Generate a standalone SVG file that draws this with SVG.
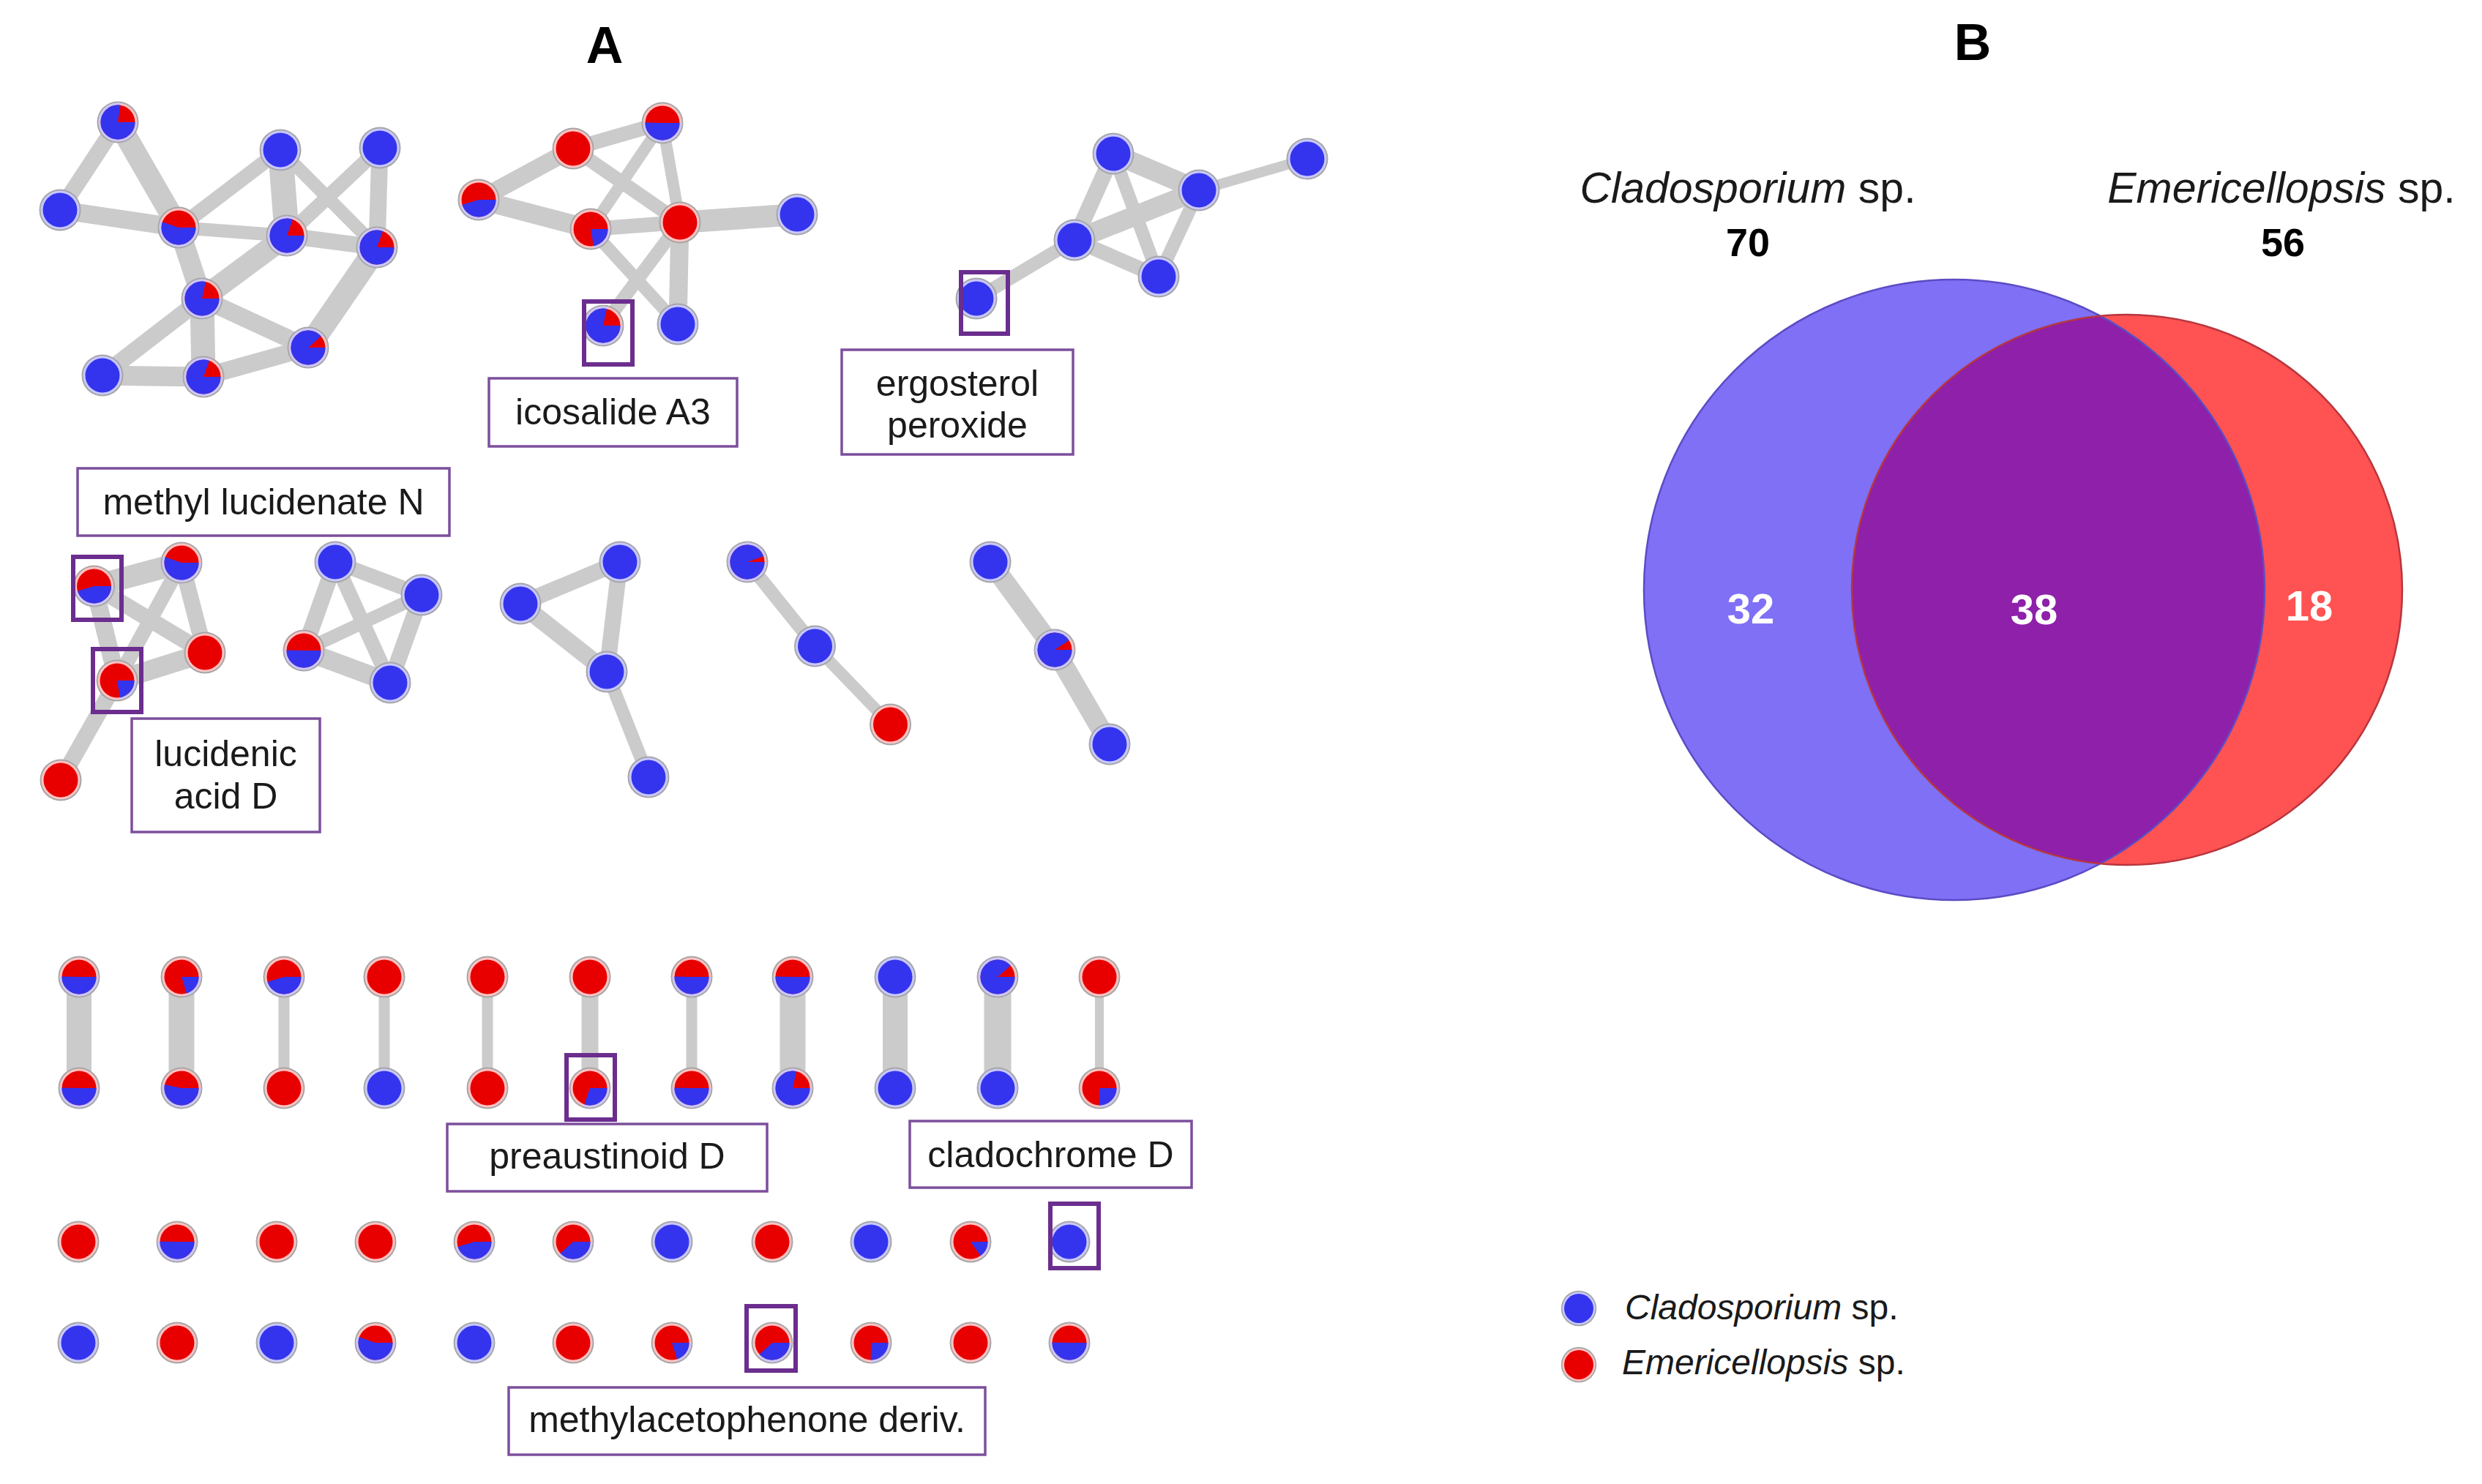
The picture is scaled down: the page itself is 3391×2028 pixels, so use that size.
<svg xmlns="http://www.w3.org/2000/svg" width="3391" height="2028" viewBox="0 0 3391 2028">
<style>
.e{stroke:#cbcbcb;fill:none}
.o{fill:#a6a6a6}
.lr{fill:#ffc2c2}
.lb{fill:#c8c8ff}
.r{fill:#e80000}
.b{fill:#3434ee}
.wl{fill:none;stroke:#c8c8ff;stroke-width:26.5}
.wb{fill:none;stroke:#3434ee;stroke-width:23.5}
.k94 .wl{stroke-dasharray:78.26 90}.k94 .wb{stroke-dasharray:69.40 90}
.k90 .wl{stroke-dasharray:74.93 90}.k90 .wb{stroke-dasharray:66.45 90}
.k88 .wl{stroke-dasharray:73.26 90}.k88 .wb{stroke-dasharray:64.97 90}
.k80 .wl{stroke-dasharray:66.60 90}.k80 .wb{stroke-dasharray:59.06 90}
.k78 .wl{stroke-dasharray:64.94 90}.k78 .wb{stroke-dasharray:57.59 90}
.k77 .wl{stroke-dasharray:64.10 90}.k77 .wb{stroke-dasharray:56.85 90}
.k55 .wl{stroke-dasharray:45.79 90}.k55 .wb{stroke-dasharray:40.61 90}
.k53 .wl{stroke-dasharray:44.12 90}.k53 .wb{stroke-dasharray:39.13 90}
.k50 .wl{stroke-dasharray:41.63 90}.k50 .wb{stroke-dasharray:36.92 90}
.k45 .wl{stroke-dasharray:37.46 90}.k45 .wb{stroke-dasharray:33.22 90}
.k38 .wl{stroke-dasharray:31.64 90}.k38 .wb{stroke-dasharray:28.06 90}
.k30 .wl{stroke-dasharray:24.98 90}.k30 .wb{stroke-dasharray:22.15 90}
.k25 .wl{stroke-dasharray:20.81 90}.k25 .wb{stroke-dasharray:18.46 90}
.k22 .wl{stroke-dasharray:18.32 90}.k22 .wb{stroke-dasharray:16.24 90}
.k20 .wl{stroke-dasharray:16.65 90}.k20 .wb{stroke-dasharray:14.77 90}
.k15 .wl{stroke-dasharray:12.49 90}.k15 .wb{stroke-dasharray:11.07 90}
.lab{fill:#fff;stroke:#7c4f9c;stroke-width:3.5}
.hl{fill:none;stroke:#6b2d8e;stroke-width:6}
.t{font-family:"Liberation Sans",Arial,Helvetica,sans-serif;font-size:50px;fill:#1a1a1a;text-anchor:middle}
.h{font-family:"Liberation Sans",Arial,Helvetica,sans-serif;font-weight:bold;fill:#000;text-anchor:middle}
.lg{font-family:"Liberation Sans",Arial,Helvetica,sans-serif;font-size:48px;fill:#1a1a1a}
</style>
<defs>
<clipPath id="clipL"><circle cx="2670" cy="806" r="424"/></clipPath>
</defs>
<rect width="3391" height="2028" fill="#fff"/>

<text class="h" x="826" y="86" font-size="70">A</text>
<text class="h" x="2695" y="82" font-size="70">B</text>

<g id="connectors">
<g class="e">
<line x1="161" y1="167" x2="82" y2="287" stroke-width="22"/>
<line x1="161" y1="167" x2="244" y2="311" stroke-width="30"/>
<line x1="82" y1="287" x2="244" y2="311" stroke-width="25"/>
<line x1="244" y1="311" x2="383" y2="205" stroke-width="20"/>
<line x1="244" y1="311" x2="392" y2="322" stroke-width="18"/>
<line x1="392" y1="322" x2="515" y2="338" stroke-width="22"/>
<line x1="244" y1="311" x2="276" y2="408" stroke-width="28"/>
<line x1="383" y1="205" x2="392" y2="322" stroke-width="34"/>
<line x1="383" y1="205" x2="515" y2="338" stroke-width="18"/>
<line x1="519" y1="202" x2="392" y2="322" stroke-width="20"/>
<line x1="519" y1="202" x2="515" y2="338" stroke-width="23"/>
<line x1="392" y1="322" x2="276" y2="408" stroke-width="30"/>
<line x1="515" y1="338" x2="421" y2="475" stroke-width="32"/>
<line x1="276" y1="408" x2="421" y2="475" stroke-width="24"/>
<line x1="276" y1="408" x2="140" y2="513" stroke-width="23"/>
<line x1="276" y1="408" x2="278" y2="515" stroke-width="33"/>
<line x1="140" y1="513" x2="278" y2="515" stroke-width="27"/>
<line x1="278" y1="515" x2="421" y2="475" stroke-width="24"/>

<line x1="654" y1="273" x2="783" y2="203" stroke-width="24"/>
<line x1="783" y1="203" x2="905" y2="168" stroke-width="20"/>
<line x1="654" y1="273" x2="807" y2="313" stroke-width="26"/>
<line x1="783" y1="203" x2="929" y2="304" stroke-width="19"/>
<line x1="905" y1="168" x2="807" y2="313" stroke-width="16"/>
<line x1="905" y1="168" x2="929" y2="304" stroke-width="16"/>
<line x1="807" y1="313" x2="929" y2="304" stroke-width="20"/>
<line x1="929" y1="304" x2="1089" y2="293" stroke-width="30"/>
<line x1="807" y1="313" x2="926" y2="443" stroke-width="17"/>
<line x1="929" y1="304" x2="824" y2="445" stroke-width="18"/>
<line x1="929" y1="304" x2="926" y2="443" stroke-width="25"/>

<line x1="1521" y1="210" x2="1638" y2="260" stroke-width="27"/>
<line x1="1521" y1="210" x2="1468" y2="328" stroke-width="22"/>
<line x1="1521" y1="210" x2="1583" y2="378" stroke-width="18"/>
<line x1="1638" y1="260" x2="1468" y2="328" stroke-width="27"/>
<line x1="1638" y1="260" x2="1583" y2="378" stroke-width="18"/>
<line x1="1468" y1="328" x2="1583" y2="378" stroke-width="20"/>
<line x1="1638" y1="260" x2="1786" y2="217" stroke-width="14"/>
<line x1="1468" y1="328" x2="1334" y2="408" stroke-width="18"/>

<line x1="128.5" y1="801" x2="248" y2="769" stroke-width="30"/>
<line x1="128.5" y1="801" x2="280" y2="892" stroke-width="22"/>
<line x1="128.5" y1="801" x2="160" y2="930" stroke-width="24"/>
<line x1="248" y1="769" x2="280" y2="892" stroke-width="22"/>
<line x1="248" y1="769" x2="160" y2="930" stroke-width="20"/>
<line x1="160" y1="930" x2="280" y2="892" stroke-width="27"/>
<line x1="160" y1="930" x2="83" y2="1066" stroke-width="22"/>

<line x1="458" y1="768" x2="576" y2="813" stroke-width="20"/>
<line x1="458" y1="768" x2="415" y2="889" stroke-width="22"/>
<line x1="458" y1="768" x2="533" y2="933" stroke-width="20"/>
<line x1="415" y1="889" x2="576" y2="813" stroke-width="18"/>
<line x1="415" y1="889" x2="533" y2="933" stroke-width="26"/>
<line x1="576" y1="813" x2="533" y2="933" stroke-width="22"/>

<line x1="711" y1="825" x2="847" y2="768" stroke-width="22"/>
<line x1="711" y1="825" x2="829" y2="918" stroke-width="24"/>
<line x1="847" y1="768" x2="829" y2="918" stroke-width="22"/>
<line x1="829" y1="918" x2="886" y2="1062" stroke-width="18"/>

<line x1="1021" y1="768" x2="1113.5" y2="883" stroke-width="18"/>
<line x1="1113.5" y1="883" x2="1216.5" y2="990" stroke-width="16"/>

<line x1="1353" y1="768" x2="1441" y2="888" stroke-width="27"/>
<line x1="1441" y1="888" x2="1516" y2="1017" stroke-width="27"/>

<line x1="108" y1="1335" x2="108" y2="1487" stroke-width="34"/>
<line x1="248" y1="1335" x2="248" y2="1487" stroke-width="35"/>
<line x1="388" y1="1335" x2="388" y2="1487" stroke-width="15"/>
<line x1="525" y1="1335" x2="525" y2="1487" stroke-width="15"/>
<line x1="666" y1="1335" x2="666" y2="1487" stroke-width="15"/>
<line x1="806" y1="1335" x2="806" y2="1487" stroke-width="23"/>
<line x1="945" y1="1335" x2="945" y2="1487" stroke-width="15"/>
<line x1="1083" y1="1335" x2="1083" y2="1487" stroke-width="35"/>
<line x1="1223" y1="1335" x2="1223" y2="1487" stroke-width="34"/>
<line x1="1363" y1="1335" x2="1363" y2="1487" stroke-width="37"/>
<line x1="1502" y1="1335" x2="1502" y2="1487" stroke-width="12"/>
</g>
</g>

<g id="nodes">
<!-- cluster 1 -->
<g id="a1" class="k77" transform="translate(161,167)"><circle r="28.5" class="o"/><circle r="26.5" class="lr"/><circle r="13.25" class="wl"/><circle r="23.5" class="r"/><circle r="11.75" class="wb"/></g>
<g id="a2" transform="translate(82,287)"><circle r="28.5" class="o"/><circle r="26.5" class="lb"/><circle r="23.5" class="b"/></g>
<g id="a3" class="k55" transform="translate(244,311)"><circle r="28.5" class="o"/><circle r="26.5" class="lr"/><circle r="13.25" class="wl"/><circle r="23.5" class="r"/><circle r="11.75" class="wb"/></g>
<g id="a4" transform="translate(383,205)"><circle r="28.5" class="o"/><circle r="26.5" class="lb"/><circle r="23.5" class="b"/></g>
<g id="a5" transform="translate(519,202)"><circle r="28.5" class="o"/><circle r="26.5" class="lb"/><circle r="23.5" class="b"/></g>
<g id="a6" class="k80" transform="translate(392,322)"><circle r="28.5" class="o"/><circle r="26.5" class="lr"/><circle r="13.25" class="wl"/><circle r="23.5" class="r"/><circle r="11.75" class="wb"/></g>
<g id="a7" class="k80" transform="translate(515,338)"><circle r="28.5" class="o"/><circle r="26.5" class="lr"/><circle r="13.25" class="wl"/><circle r="23.5" class="r"/><circle r="11.75" class="wb"/></g>
<g id="a8" class="k78" transform="translate(276,408)"><circle r="28.5" class="o"/><circle r="26.5" class="lr"/><circle r="13.25" class="wl"/><circle r="23.5" class="r"/><circle r="11.75" class="wb"/></g>
<g id="a9" class="k88" transform="translate(421,475)"><circle r="28.5" class="o"/><circle r="26.5" class="lr"/><circle r="13.25" class="wl"/><circle r="23.5" class="r"/><circle r="11.75" class="wb"/></g>
<g id="a10" transform="translate(140,513)"><circle r="28.5" class="o"/><circle r="26.5" class="lb"/><circle r="23.5" class="b"/></g>
<g id="a11" class="k80" transform="translate(278,515)"><circle r="28.5" class="o"/><circle r="26.5" class="lr"/><circle r="13.25" class="wl"/><circle r="23.5" class="r"/><circle r="11.75" class="wb"/></g>
<!-- cluster 2 -->
<g id="b1" class="k50" transform="translate(905,168)"><circle r="28.5" class="o"/><circle r="26.5" class="lr"/><circle r="13.25" class="wl"/><circle r="23.5" class="r"/><circle r="11.75" class="wb"/></g>
<g id="b2" transform="translate(783,203)"><circle r="28.5" class="o"/><circle r="26.5" class="lr"/><circle r="23.5" class="r"/></g>
<g id="b3" class="k45" transform="translate(654,273)"><circle r="28.5" class="o"/><circle r="26.5" class="lr"/><circle r="13.25" class="wl"/><circle r="23.5" class="r"/><circle r="11.75" class="wb"/></g>
<g id="b4" class="k22" transform="translate(807,313)"><circle r="28.5" class="o"/><circle r="26.5" class="lr"/><circle r="13.25" class="wl"/><circle r="23.5" class="r"/><circle r="11.75" class="wb"/></g>
<g id="b5" transform="translate(929,304)"><circle r="28.5" class="o"/><circle r="26.5" class="lr"/><circle r="23.5" class="r"/></g>
<g id="b6" transform="translate(1089,293)"><circle r="28.5" class="o"/><circle r="26.5" class="lb"/><circle r="23.5" class="b"/></g>
<g id="b7" class="k78" transform="translate(824,445)"><circle r="28.5" class="o"/><circle r="26.5" class="lr"/><circle r="13.25" class="wl"/><circle r="23.5" class="r"/><circle r="11.75" class="wb"/></g>
<g id="b8" transform="translate(926,443)"><circle r="28.5" class="o"/><circle r="26.5" class="lb"/><circle r="23.5" class="b"/></g>
<!-- cluster 3 -->
<g id="c1" transform="translate(1521,210)"><circle r="28.5" class="o"/><circle r="26.5" class="lb"/><circle r="23.5" class="b"/></g>
<g id="c2" transform="translate(1786,217)"><circle r="28.5" class="o"/><circle r="26.5" class="lb"/><circle r="23.5" class="b"/></g>
<g id="c3" transform="translate(1638,260)"><circle r="28.5" class="o"/><circle r="26.5" class="lb"/><circle r="23.5" class="b"/></g>
<g id="c4" transform="translate(1468,328)"><circle r="28.5" class="o"/><circle r="26.5" class="lb"/><circle r="23.5" class="b"/></g>
<g id="c5" transform="translate(1583,378)"><circle r="28.5" class="o"/><circle r="26.5" class="lb"/><circle r="23.5" class="b"/></g>
<g id="c6" transform="translate(1334,408)"><circle r="28.5" class="o"/><circle r="26.5" class="lb"/><circle r="23.5" class="b"/></g>
<!-- cluster 4 -->
<g id="d1" class="k45" transform="translate(128.5,801)"><circle r="28.5" class="o"/><circle r="26.5" class="lr"/><circle r="13.25" class="wl"/><circle r="23.5" class="r"/><circle r="11.75" class="wb"/></g>
<g id="d2" class="k55" transform="translate(248,769)"><circle r="28.5" class="o"/><circle r="26.5" class="lr"/><circle r="13.25" class="wl"/><circle r="23.5" class="r"/><circle r="11.75" class="wb"/></g>
<g id="d3" transform="translate(280,892)"><circle r="28.5" class="o"/><circle r="26.5" class="lr"/><circle r="23.5" class="r"/></g>
<g id="d4" class="k22" transform="translate(160,930)"><circle r="28.5" class="o"/><circle r="26.5" class="lr"/><circle r="13.25" class="wl"/><circle r="23.5" class="r"/><circle r="11.75" class="wb"/></g>
<g id="d5" transform="translate(83,1066)"><circle r="28.5" class="o"/><circle r="26.5" class="lr"/><circle r="23.5" class="r"/></g>
<!-- cluster 5 -->
<g id="e1" transform="translate(458,768)"><circle r="28.5" class="o"/><circle r="26.5" class="lb"/><circle r="23.5" class="b"/></g>
<g id="e2" transform="translate(576,813)"><circle r="28.5" class="o"/><circle r="26.5" class="lb"/><circle r="23.5" class="b"/></g>
<g id="e3" class="k50" transform="translate(415,889)"><circle r="28.5" class="o"/><circle r="26.5" class="lr"/><circle r="13.25" class="wl"/><circle r="23.5" class="r"/><circle r="11.75" class="wb"/></g>
<g id="e4" transform="translate(533,933)"><circle r="28.5" class="o"/><circle r="26.5" class="lb"/><circle r="23.5" class="b"/></g>
<!-- cluster 6 -->
<g id="f1" transform="translate(847,768)"><circle r="28.5" class="o"/><circle r="26.5" class="lb"/><circle r="23.5" class="b"/></g>
<g id="f2" transform="translate(711,825)"><circle r="28.5" class="o"/><circle r="26.5" class="lb"/><circle r="23.5" class="b"/></g>
<g id="f3" transform="translate(829,918)"><circle r="28.5" class="o"/><circle r="26.5" class="lb"/><circle r="23.5" class="b"/></g>
<g id="f4" transform="translate(886,1062)"><circle r="28.5" class="o"/><circle r="26.5" class="lb"/><circle r="23.5" class="b"/></g>
<!-- cluster 7 -->
<g id="g1" class="k94" transform="translate(1021,768)"><circle r="28.5" class="o"/><circle r="26.5" class="lr"/><circle r="13.25" class="wl"/><circle r="23.5" class="r"/><circle r="11.75" class="wb"/></g>
<g id="g2" transform="translate(1113.5,883)"><circle r="28.5" class="o"/><circle r="26.5" class="lb"/><circle r="23.5" class="b"/></g>
<g id="g3" transform="translate(1216.5,990)"><circle r="28.5" class="o"/><circle r="26.5" class="lr"/><circle r="23.5" class="r"/></g>
<!-- cluster 8 -->
<g id="h1" transform="translate(1353,768)"><circle r="28.5" class="o"/><circle r="26.5" class="lb"/><circle r="23.5" class="b"/></g>
<g id="h2" class="k90" transform="translate(1441,888)"><circle r="28.5" class="o"/><circle r="26.5" class="lr"/><circle r="13.25" class="wl"/><circle r="23.5" class="r"/><circle r="11.75" class="wb"/></g>
<g id="h3" transform="translate(1516,1017)"><circle r="28.5" class="o"/><circle r="26.5" class="lb"/><circle r="23.5" class="b"/></g>

<!-- pairs top -->
<g id="p1t" class="k50" transform="translate(108,1335)"><circle r="28.5" class="o"/><circle r="26.5" class="lr"/><circle r="13.25" class="wl"/><circle r="23.5" class="r"/><circle r="11.75" class="wb"/></g>
<g id="p2t" class="k20" transform="translate(248,1335)"><circle r="28.5" class="o"/><circle r="26.5" class="lr"/><circle r="13.25" class="wl"/><circle r="23.5" class="r"/><circle r="11.75" class="wb"/></g>
<g id="p3t" class="k45" transform="translate(388,1335)"><circle r="28.5" class="o"/><circle r="26.5" class="lr"/><circle r="13.25" class="wl"/><circle r="23.5" class="r"/><circle r="11.75" class="wb"/></g>
<g id="p4t" transform="translate(525,1335)"><circle r="28.5" class="o"/><circle r="26.5" class="lr"/><circle r="23.5" class="r"/></g>
<g id="p5t" transform="translate(666,1335)"><circle r="28.5" class="o"/><circle r="26.5" class="lr"/><circle r="23.5" class="r"/></g>
<g id="p6t" transform="translate(806,1335)"><circle r="28.5" class="o"/><circle r="26.5" class="lr"/><circle r="23.5" class="r"/></g>
<g id="p7t" class="k50" transform="translate(945,1335)"><circle r="28.5" class="o"/><circle r="26.5" class="lr"/><circle r="13.25" class="wl"/><circle r="23.5" class="r"/><circle r="11.75" class="wb"/></g>
<g id="p8t" class="k50" transform="translate(1083,1335)"><circle r="28.5" class="o"/><circle r="26.5" class="lr"/><circle r="13.25" class="wl"/><circle r="23.5" class="r"/><circle r="11.75" class="wb"/></g>
<g id="p9t" transform="translate(1223,1335)"><circle r="28.5" class="o"/><circle r="26.5" class="lb"/><circle r="23.5" class="b"/></g>
<g id="p10t" class="k88" transform="translate(1363,1335)"><circle r="28.5" class="o"/><circle r="26.5" class="lr"/><circle r="13.25" class="wl"/><circle r="23.5" class="r"/><circle r="11.75" class="wb"/></g>
<g id="p11t" transform="translate(1502,1335)"><circle r="28.5" class="o"/><circle r="26.5" class="lr"/><circle r="23.5" class="r"/></g>
<!-- pairs bottom -->
<g id="p1b" class="k50" transform="translate(108,1487)"><circle r="28.5" class="o"/><circle r="26.5" class="lr"/><circle r="13.25" class="wl"/><circle r="23.5" class="r"/><circle r="11.75" class="wb"/></g>
<g id="p2b" class="k53" transform="translate(248,1487)"><circle r="28.5" class="o"/><circle r="26.5" class="lr"/><circle r="13.25" class="wl"/><circle r="23.5" class="r"/><circle r="11.75" class="wb"/></g>
<g id="p3b" transform="translate(388,1487)"><circle r="28.5" class="o"/><circle r="26.5" class="lr"/><circle r="23.5" class="r"/></g>
<g id="p4b" transform="translate(525,1487)"><circle r="28.5" class="o"/><circle r="26.5" class="lb"/><circle r="23.5" class="b"/></g>
<g id="p5b" transform="translate(666,1487)"><circle r="28.5" class="o"/><circle r="26.5" class="lr"/><circle r="23.5" class="r"/></g>
<g id="p6b" class="k30" transform="translate(806,1487)"><circle r="28.5" class="o"/><circle r="26.5" class="lr"/><circle r="13.25" class="wl"/><circle r="23.5" class="r"/><circle r="11.75" class="wb"/></g>
<g id="p7b" class="k50" transform="translate(945,1487)"><circle r="28.5" class="o"/><circle r="26.5" class="lr"/><circle r="13.25" class="wl"/><circle r="23.5" class="r"/><circle r="11.75" class="wb"/></g>
<g id="p8b" class="k78" transform="translate(1083,1487)"><circle r="28.5" class="o"/><circle r="26.5" class="lr"/><circle r="13.25" class="wl"/><circle r="23.5" class="r"/><circle r="11.75" class="wb"/></g>
<g id="p9b" transform="translate(1223,1487)"><circle r="28.5" class="o"/><circle r="26.5" class="lb"/><circle r="23.5" class="b"/></g>
<g id="p10b" transform="translate(1363,1487)"><circle r="28.5" class="o"/><circle r="26.5" class="lb"/><circle r="23.5" class="b"/></g>
<g id="p11b" class="k25" transform="translate(1502,1487)"><circle r="28.5" class="o"/><circle r="26.5" class="lr"/><circle r="13.25" class="wl"/><circle r="23.5" class="r"/><circle r="11.75" class="wb"/></g>

<!-- singletons row 1 -->
<g id="s1" transform="translate(107,1697)"><circle r="28.5" class="o"/><circle r="26.5" class="lr"/><circle r="23.5" class="r"/></g>
<g id="s2" class="k50" transform="translate(242,1697)"><circle r="28.5" class="o"/><circle r="26.5" class="lr"/><circle r="13.25" class="wl"/><circle r="23.5" class="r"/><circle r="11.75" class="wb"/></g>
<g id="s3" transform="translate(378,1697)"><circle r="28.5" class="o"/><circle r="26.5" class="lr"/><circle r="23.5" class="r"/></g>
<g id="s4" transform="translate(513,1697)"><circle r="28.5" class="o"/><circle r="26.5" class="lr"/><circle r="23.5" class="r"/></g>
<g id="s5" class="k45" transform="translate(648,1697)"><circle r="28.5" class="o"/><circle r="26.5" class="lr"/><circle r="13.25" class="wl"/><circle r="23.5" class="r"/><circle r="11.75" class="wb"/></g>
<g id="s6" class="k38" transform="translate(783,1697)"><circle r="28.5" class="o"/><circle r="26.5" class="lr"/><circle r="13.25" class="wl"/><circle r="23.5" class="r"/><circle r="11.75" class="wb"/></g>
<g id="s7" transform="translate(918,1697)"><circle r="28.5" class="o"/><circle r="26.5" class="lb"/><circle r="23.5" class="b"/></g>
<g id="s8" transform="translate(1055,1697)"><circle r="28.5" class="o"/><circle r="26.5" class="lr"/><circle r="23.5" class="r"/></g>
<g id="s9" transform="translate(1190,1697)"><circle r="28.5" class="o"/><circle r="26.5" class="lb"/><circle r="23.5" class="b"/></g>
<g id="s10" class="k15" transform="translate(1326,1697)"><circle r="28.5" class="o"/><circle r="26.5" class="lr"/><circle r="13.25" class="wl"/><circle r="23.5" class="r"/><circle r="11.75" class="wb"/></g>
<g id="s11" transform="translate(1461,1697)"><circle r="28.5" class="o"/><circle r="26.5" class="lb"/><circle r="23.5" class="b"/></g>
<!-- singletons row 2 -->
<g id="t1" transform="translate(107,1835)"><circle r="28.5" class="o"/><circle r="26.5" class="lb"/><circle r="23.5" class="b"/></g>
<g id="t2" transform="translate(242,1835)"><circle r="28.5" class="o"/><circle r="26.5" class="lr"/><circle r="23.5" class="r"/></g>
<g id="t3" transform="translate(378,1835)"><circle r="28.5" class="o"/><circle r="26.5" class="lb"/><circle r="23.5" class="b"/></g>
<g id="t4" class="k55" transform="translate(513,1835)"><circle r="28.5" class="o"/><circle r="26.5" class="lr"/><circle r="13.25" class="wl"/><circle r="23.5" class="r"/><circle r="11.75" class="wb"/></g>
<g id="t5" transform="translate(648,1835)"><circle r="28.5" class="o"/><circle r="26.5" class="lb"/><circle r="23.5" class="b"/></g>
<g id="t6" transform="translate(783,1835)"><circle r="28.5" class="o"/><circle r="26.5" class="lr"/><circle r="23.5" class="r"/></g>
<g id="t7" class="k20" transform="translate(918,1835)"><circle r="28.5" class="o"/><circle r="26.5" class="lr"/><circle r="13.25" class="wl"/><circle r="23.5" class="r"/><circle r="11.75" class="wb"/></g>
<g id="t8" class="k38" transform="translate(1055,1835)"><circle r="28.5" class="o"/><circle r="26.5" class="lr"/><circle r="13.25" class="wl"/><circle r="23.5" class="r"/><circle r="11.75" class="wb"/></g>
<g id="t9" class="k25" transform="translate(1190,1835)"><circle r="28.5" class="o"/><circle r="26.5" class="lr"/><circle r="13.25" class="wl"/><circle r="23.5" class="r"/><circle r="11.75" class="wb"/></g>
<g id="t10" transform="translate(1326,1835)"><circle r="28.5" class="o"/><circle r="26.5" class="lr"/><circle r="23.5" class="r"/></g>
<g id="t11" class="k50" transform="translate(1461,1835)"><circle r="28.5" class="o"/><circle r="26.5" class="lr"/><circle r="13.25" class="wl"/><circle r="23.5" class="r"/><circle r="11.75" class="wb"/></g>
</g>

<g id="highlights">
<rect class="hl" x="798" y="412" width="66" height="86"/>
<rect class="hl" x="1313" y="372" width="64" height="84"/>
<rect class="hl" x="100" y="761" width="66" height="86"/>
<rect class="hl" x="127" y="887" width="66" height="86"/>
<rect class="hl" x="774" y="1442" width="66" height="88"/>
<rect class="hl" x="1435" y="1645" width="66" height="88"/>
<rect class="hl" x="1020" y="1785" width="67" height="88"/>
</g>

<g id="labels">
<g id="lab-icosalide"><rect class="lab" x="668" y="517" width="339" height="93"/><text class="t" x="837.5" y="580">icosalide A3</text></g>
<g id="lab-ergosterol"><rect class="lab" x="1150" y="478" width="316" height="143"/><text class="t" x="1308" y="541">ergosterol</text><text class="t" x="1308" y="598">peroxide</text></g>
<g id="lab-methyl"><rect class="lab" x="106" y="640" width="508" height="92"/><text class="t" x="360" y="703">methyl lucidenate N</text></g>
<g id="lab-lucidenic"><rect class="lab" x="180" y="982" width="257" height="155"/><text class="t" x="308.5" y="1047">lucidenic</text><text class="t" x="308.5" y="1105">acid D</text></g>
<g id="lab-preaustinoid"><rect class="lab" x="611" y="1536" width="437" height="92"/><text class="t" x="829.5" y="1597">preaustinoid D</text></g>
<g id="lab-cladochrome"><rect class="lab" x="1243" y="1532" width="385" height="91"/><text class="t" x="1435.5" y="1595">cladochrome D</text></g>
<g id="lab-methylaceto"><rect class="lab" x="695" y="1896" width="651" height="92"/><text class="t" x="1020.5" y="1957">methylacetophenone deriv.</text></g>
</g>

<g id="venn">
<circle cx="2670" cy="806" r="424" fill="#7f70f6"/>
<circle cx="2906" cy="806" r="376" fill="#ff5252"/>
<circle cx="2906" cy="806" r="376" fill="#8e20aa" clip-path="url(#clipL)"/>
<circle cx="2670" cy="806" r="424" fill="none" stroke="#5c4cc4" stroke-width="2.5"/>
<circle cx="2906" cy="806" r="376" fill="none" stroke="#b8363e" stroke-width="2.5"/>
<text class="h" x="2392" y="852" font-size="58" fill="#fff" style="fill:#fff">32</text>
<text class="h" x="2779" y="853" font-size="58" style="fill:#fff">38</text>
<text class="h" x="3155" y="848" font-size="58" style="fill:#fff">18</text>
<text class="lg" x="2388" y="277" font-size="59" text-anchor="middle" style="font-size:59px"><tspan font-style="italic">Cladosporium</tspan> sp.</text>
<text class="h" x="2388" y="350" font-size="54">70</text>
<text class="lg" x="3117" y="277" text-anchor="middle" style="font-size:59px"><tspan font-style="italic">Emericellopsis</tspan> sp.</text>
<text class="h" x="3119" y="350" font-size="54">56</text>
</g>

<g id="legend">
<g id="leg-blue" transform="translate(2157,1788) scale(0.85)"><circle r="28.5" class="o"/><circle r="26.5" class="lb"/><circle r="23.5" class="b"/></g>
<g id="leg-red" transform="translate(2157,1865) scale(0.85)"><circle r="28.5" class="o"/><circle r="26.5" class="lr"/><circle r="23.5" class="r"/></g>
<text class="lg" x="2220" y="1803"><tspan font-style="italic">Cladosporium</tspan> sp.</text>
<text class="lg" x="2216" y="1878"><tspan font-style="italic">Emericellopsis</tspan> sp.</text>
</g>
</svg>
